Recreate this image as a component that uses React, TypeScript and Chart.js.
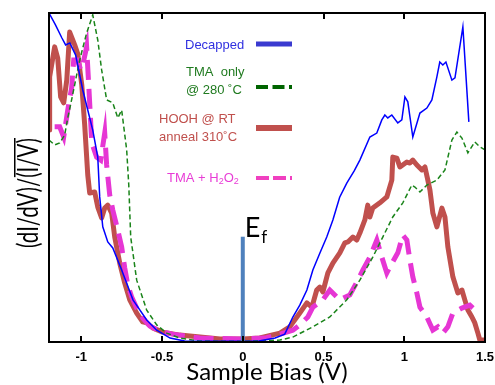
import React, { useEffect, useRef } from 'react';
import { Chart, registerables } from 'chart.js';

Chart.register(...registerables);

// ---------- data ----------
const X_MIN = -1.2;
const X_MAX = 1.5;
const Y_MIN = 0;
const Y_MAX = 100;
const X_TICKS = [-1, -0.5, 0, 0.5, 1, 1.5];
const X_TICK_LABELS = ['-1', '-0.5', '0', '0.5', '1', '1.5'];
const X_TITLE = 'Sample Bias (V)';

const BLUE_X = [-1.2, -1.16, -1.12, -1.097, -1.071, -1.035, -0.991, -0.96, -0.929, -0.898, -0.886, -0.867, -0.836, -0.805, -0.75, -0.68, -0.595, -0.533, -0.45, -0.36, -0.2, 0, 0.1, 0.2, 0.26, 0.31, 0.353, 0.397, 0.434, 0.477, 0.52, 0.558, 0.6, 0.644, 0.69, 0.725, 0.787, 0.83, 0.861, 0.88, 0.898, 0.923, 0.96, 0.985, 1.004, 1.022, 1.053, 1.097, 1.14, 1.171, 1.202, 1.22, 1.239, 1.258, 1.295, 1.314, 1.363, 1.4];
const BLUE_Y = [100, 96.4, 92.4, 90.3, 90.9, 87.2, 76.6, 70.5, 64.4, 56.2, 44.1, 35.0, 30.4, 28.6, 21.9, 12.8, 6.7, 3.6, 1.2, 0.3, 0.2, 0.2, 0.3, 1.2, 2.4, 7.6, 11.2, 15.8, 21.9, 27, 31.9, 37.1, 44, 48.3, 52, 55.3, 62.3, 63.5, 67.5, 69, 68.1, 69, 66.6, 67.5, 74.5, 73, 62.3, 69.6, 71.1, 73.6, 80.6, 85.1, 84.2, 85.1, 79.6, 80.3, 95.8, 66.9];

const GREEN_X = [-1.2, -1.165, -1.134, -1.103, -1.084, -1.06, -1.01, -0.967, -0.929, -0.898, -0.874, -0.843, -0.805, -0.774, -0.75, -0.719, -0.706, -0.694, -0.657, -0.595, -0.533, -0.471, -0.39, -0.27, 0, 0.23, 0.31, 0.434, 0.539, 0.644, 0.725, 0.805, 0.867, 0.929, 0.991, 1.047, 1.066, 1.097, 1.14, 1.202, 1.252, 1.295, 1.326, 1.357, 1.394, 1.437, 1.468, 1.5];
const GREEN_Y = [61.4, 59.9, 60.5, 62.9, 68.1, 73.6, 85.7, 93.9, 99.4, 91.8, 82.7, 73.6, 72.7, 68.1, 70.5, 58.4, 47.7, 31.9, 18.8, 9.7, 5.2, 2.7, 1.2, 0.3, 0.2, 0.6, 1.5, 4.6, 7.6, 12.8, 18.8, 25.8, 31.9, 38, 42.3, 47.7, 47.1, 45.6, 47.7, 49.2, 52.3, 61.4, 63.8, 62, 57.5, 60.8, 59.3, 58.4];

const RED_X = [-1.2, -1.196, -1.165, -1.146, -1.128, -1.109, -1.09, -1.072, -1.041, -1.022, -0.997, -0.979, -0.96, -0.948, -0.917, -0.898, -0.874, -0.855, -0.836, -0.812, -0.793, -0.762, -0.731, -0.7, -0.657, -0.62, -0.595, -0.558, -0.496, -0.39, -0.14, 0, 0.105, 0.23, 0.291, 0.353, 0.397, 0.428, 0.458, 0.477, 0.496, 0.527, 0.558, 0.601, 0.632, 0.651, 0.682, 0.706, 0.725, 0.756, 0.774, 0.787, 0.805, 0.849, 0.892, 0.923, 0.929, 0.954, 0.973, 1.016, 1.035, 1.053, 1.078, 1.109, 1.128, 1.146, 1.159, 1.177, 1.202, 1.233, 1.252, 1.27, 1.301, 1.332, 1.357, 1.375, 1.394, 1.419, 1.437, 1.456, 1.468, 1.5];
const RED_Y = [64.4, 80.6, 89.7, 86.3, 74.5, 72.7, 79.6, 94.2, 90.3, 87.6, 78.1, 66, 50.8, 45.3, 45.6, 41, 37.7, 40.7, 41.6, 39.2, 31.9, 24, 17.9, 12.8, 8.8, 6.1, 5.8, 4.3, 3, 2.1, 0.9, 0.9, 1.2, 2.7, 4.6, 8.8, 11.9, 10.6, 15.8, 16.7, 15.2, 21, 24, 27.1, 30.1, 30.4, 31.9, 31, 33.1, 37.1, 41.6, 38, 40.7, 42.3, 44.1, 49.2, 56.2, 55.9, 53.2, 54.7, 54.4, 55.3, 53.8, 52.3, 53.2, 49.2, 46.2, 39.2, 35, 40.7, 38, 28.9, 19.8, 14.9, 15.8, 12.8, 9.7, 7.6, 5.8, 2.7, 0.6, 0.6];

const MAGENTA_X = [-1.165, -1.134, -1.109, -1.084, -1.06, -1.047, -1.022, -1.004, -0.991, -0.967, -0.954, -0.935, -0.905, -0.88, -0.855, -0.843, -0.824, -0.805, -0.774, -0.75, -0.731, -0.712, -0.688, -0.657, -0.62, -0.576, -0.514, -0.434, -0.266, -0.019, 0.136, 0.229, 0.31, 0.353, 0.403, 0.434, 0.496, 0.539, 0.57, 0.601, 0.663, 0.713, 0.744, 0.787, 0.83, 0.861, 0.892, 0.911, 0.96, 0.991, 1.016, 1.035, 1.053, 1.078, 1.097, 1.14, 1.177, 1.208, 1.239, 1.27, 1.301, 1.357, 1.406, 1.425];
const MAGENTA_Y = [65.4, 65.4, 62.3, 70.5, 77.2, 85.7, 85.7, 82.7, 84.2, 89.7, 78.1, 60.5, 56.2, 55.3, 63.5, 53.8, 44.7, 40.1, 34, 28.9, 22.5, 17.3, 13.7, 10.3, 7.3, 4.9, 3.3, 2.4, 1.2, 0.9, 1.2, 2.4, 3.6, 5.2, 7.6, 10.6, 12.8, 15.8, 14.3, 12.8, 14.3, 18.8, 21.9, 25.8, 31, 25.8, 21, 22.8, 27.1, 32.5, 31, 24.9, 19.8, 14.9, 10.6, 7.6, 3.6, 4.6, 2.7, 4.6, 8.8, 10.3, 11.2, 10.3];

const EF_X = [0, 0];
const EF_Y = [0, 32];

const LEGEND_BLUE = ['Decapped'];
const LEGEND_GREEN = ['TMA  only', '@ 280 \u02DAC'];
const LEGEND_RED = ['HOOH @ RT', 'anneal 310\u02DAC'];
const LEGEND_MAGENTA = ['TMA + H', '2', 'O', '2'];

const C_BLUE = '#0000ff';
const C_GREEN = '#1a841a';
const C_RED = '#c0504d';
const C_MAGENTA = '#e636d4';
const C_EF = '#4f81bd';

const pts = (xs: number[], ys: number[]) => xs.map((x, i) => ({ x, y: ys[i] }));

const FRAME_BORDER = { display: true, color: '#000000', width: 2 };

const decorPlugin = {
  id: 'decor',
  afterDraw(chart: any) {
    const ctx = chart.ctx;
    const a = chart.chartArea;
    const xs = chart.scales.x;
    ctx.save();
    ctx.setLineDash([]);

    // frame (filled rectangles)
    const L = Math.round(a.left) - 1;
    const T = Math.round(a.top) - 1;
    const R = Math.round(a.right) - 1;
    const B = Math.round(a.bottom) - 1;
    ctx.fillStyle = '#000000';
    ctx.fillRect(L, T, R - L + 2, 2);
    ctx.fillRect(L, B, R - L + 2, 2);
    ctx.fillRect(L, T, 2, B - T + 2);
    ctx.fillRect(R, T, 2, B - T + 2);
    // inward tick marks
    X_TICKS.forEach((v) => {
      if (v <= X_MIN || v >= X_MAX) return;
      const px = Math.round(xs.getPixelForValue(v)) - 1;
      ctx.fillRect(px, B - 5, 2, 6);
      if (v !== 0) ctx.fillRect(px, T, 2, 7);
    });

    // E_f label
    const p0 = xs.getPixelForValue(0);
    ctx.fillStyle = '#000';
    ctx.textBaseline = 'alphabetic';
    ctx.textAlign = 'left';
    ctx.font = '27px Lato, "Open Sans", sans-serif';
    ctx.fillText('E', p0 + 2, 237);
    const ew = ctx.measureText('E').width;
    ctx.font = '17px Lato, "Open Sans", sans-serif';
    ctx.fillText('f', p0 + 3 + ew, 243);

    // y title with overline
    ctx.save();
    ctx.translate(29, 193);
    ctx.rotate(-Math.PI / 2);
    ctx.font = '28px Lato, "Open Sans", sans-serif';
    const partA = '(dI/dV)/';
    const partB = '(I/V)';
    const wA = ctx.measureText(partA).width;
    const wB = ctx.measureText(partB).width;
    const total = wA + wB;
    const sx = 110 / total;
    ctx.scale(sx, 1);
    ctx.textBaseline = 'middle';
    ctx.fillStyle = '#000';
    ctx.fillText(partA, -total / 2, 0);
    ctx.fillText(partB, -total / 2 + wA, 0);
    ctx.fillRect(-total / 2 + wA + 1, -15, wB - 1, 1.5);
    ctx.restore();

    // legend
    ctx.textBaseline = 'middle';
    ctx.textAlign = 'left';
    ctx.font = '13px "Liberation Sans", Arial, sans-serif';
    ctx.fillStyle = '#3030e0';
    ctx.fillText(LEGEND_BLUE[0], 185, 45);
    ctx.fillStyle = '#1f7a1f';
    ctx.fillText(LEGEND_GREEN[0], 186, 72);
    ctx.fillText(LEGEND_GREEN[1], 186, 90);
    ctx.fillStyle = C_RED;
    ctx.fillText(LEGEND_RED[0], 159, 119);
    ctx.fillText(LEGEND_RED[1], 159, 137);
    ctx.fillStyle = '#e83cd6';
    let lx = 167;
    const ly = 178;
    ctx.fillText(LEGEND_MAGENTA[0], lx, ly);
    lx += ctx.measureText(LEGEND_MAGENTA[0]).width;
    ctx.font = '9px "Liberation Sans", Arial, sans-serif';
    ctx.fillText(LEGEND_MAGENTA[1], lx, ly + 4);
    lx += ctx.measureText(LEGEND_MAGENTA[1]).width;
    ctx.font = '13px "Liberation Sans", Arial, sans-serif';
    ctx.fillText(LEGEND_MAGENTA[2], lx, ly);
    lx += ctx.measureText(LEGEND_MAGENTA[2]).width;
    ctx.font = '9px "Liberation Sans", Arial, sans-serif';
    ctx.fillText(LEGEND_MAGENTA[3], lx, ly + 4);

    const swatch = (y: number, color: string, w: number, dash: number[]) => {
      ctx.beginPath();
      ctx.strokeStyle = color;
      ctx.lineWidth = w;
      ctx.lineCap = 'butt';
      ctx.setLineDash(dash);
      ctx.moveTo(256, y);
      ctx.lineTo(292, y);
      ctx.stroke();
      ctx.setLineDash([]);
    };
    swatch(44, '#3a3ad0', 5, []);
    swatch(87, '#006400', 4, [12, 4.5]);
    swatch(128, C_RED, 6, []);
    swatch(178, '#f040c0', 4, [13, 4]);

    ctx.restore();
  },
};

export default function App() {
  const ref = useRef<HTMLCanvasElement | null>(null);
  useEffect(() => {
    if (!ref.current) return;
    const chart = new Chart(ref.current, {
      type: 'line',
      data: {
        datasets: [
          {
            label: 'Ef',
            data: pts(EF_X, EF_Y),
            borderColor: C_EF,
            borderWidth: 4,
            pointRadius: 0,
            order: 0,
          },
          {
            label: 'Decapped',
            data: pts(BLUE_X, BLUE_Y),
            borderColor: C_BLUE,
            borderWidth: 1.5,
            pointRadius: 0,
            order: 1,
          },
          {
            label: 'TMA only @ 280 C',
            data: pts(GREEN_X, GREEN_Y),
            borderColor: C_GREEN,
            borderWidth: 1.5,
            borderDash: [5, 3],
            pointRadius: 0,
            order: 2,
          },
          {
            label: 'TMA + H2O2',
            data: pts(MAGENTA_X, MAGENTA_Y),
            borderColor: C_MAGENTA,
            borderWidth: 5,
            borderDash: [20, 9],
            borderCapStyle: 'butt',
            pointRadius: 0,
            order: 3,
          },
          {
            label: 'HOOH @ RT anneal 310C',
            data: pts(RED_X, RED_Y),
            borderColor: C_RED,
            borderWidth: 5,
            borderCapStyle: 'round',
            borderJoinStyle: 'round',
            pointRadius: 0,
            order: 4,
          },
        ],
      },
      options: {
        responsive: false,
        animation: false,
        parsing: true,
        layout: { padding: { left: 49, right: 10, top: 13, bottom: 0 } },
        plugins: { legend: { display: false }, tooltip: { enabled: false } },
        elements: { line: { tension: 0 } },
        scales: {
          x: {
            type: 'linear',
            position: 'bottom',
            min: X_MIN,
            max: X_MAX,
            grid: { display: false, drawTicks: false },
            border: FRAME_BORDER,
            afterBuildTicks: (s: any) => {
              s.ticks = X_TICKS.map((v) => ({ value: v }));
            },
            afterFit: (s: any) => {
              s.height = 43;
              s.paddingLeft = 0;
              s.paddingRight = 0;
            },
            ticks: {
              padding: 9,
              color: '#000',
              maxRotation: 0,
              autoSkip: false,
              font: { family: '"Liberation Sans Narrow", "Arial Narrow", "Liberation Sans", Arial', weight: 'bold', size: 13, lineHeight: 1 },
              callback: (v: any) => {
                const i = X_TICKS.indexOf(Number(v));
                return i >= 0 ? X_TICK_LABELS[i] : '';
              },
            },
            title: {
              display: true,
              text: X_TITLE,
              color: '#000',
              font: { family: 'Lato, "Open Sans", sans-serif', size: 24, lineHeight: 1 },
              padding: { top: 0, bottom: 1 },
            },
          },
          xTop: {
            type: 'linear',
            position: 'top',
            min: X_MIN,
            max: X_MAX,
            display: true,
            grid: { display: false, drawTicks: false },
            ticks: { display: false },
            border: FRAME_BORDER,
            afterFit: (s: any) => {
              s.height = 0;
              s.paddingLeft = 0;
              s.paddingRight = 0;
            },
          },
          y: {
            type: 'linear',
            position: 'left',
            min: Y_MIN,
            max: Y_MAX,
            display: true,
            grid: { display: false, drawTicks: false },
            ticks: { display: false },
            border: FRAME_BORDER,
            afterFit: (s: any) => {
              s.width = 0;
              s.paddingTop = 0;
              s.paddingBottom = 0;
            },
          },
          yRight: {
            type: 'linear',
            position: 'right',
            min: Y_MIN,
            max: Y_MAX,
            display: true,
            grid: { display: false, drawTicks: false },
            ticks: { display: false },
            border: FRAME_BORDER,
            afterFit: (s: any) => {
              s.width = 0;
              s.paddingTop = 0;
              s.paddingBottom = 0;
            },
          },
        },
      },
      plugins: [decorPlugin],
    } as any);
    return () => chart.destroy();
  }, []);

  return (
    <div style={{ position: 'fixed', left: 0, top: 0, width: 495, height: 385, background: '#fff' }}>
      <canvas ref={ref} width={495} height={385} style={{ width: 495, height: 385 }} />
    </div>
  );
}
